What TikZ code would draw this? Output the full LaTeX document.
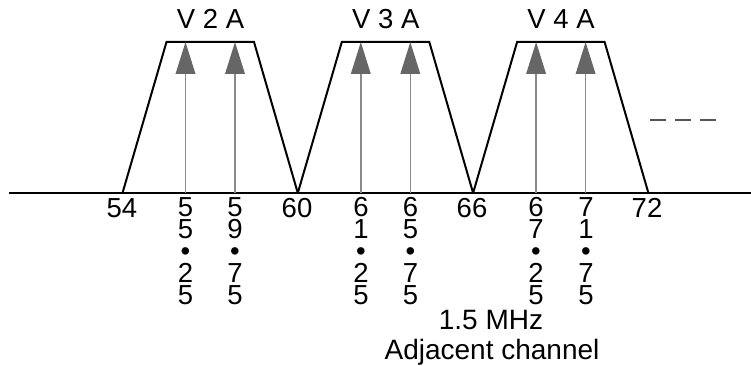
\documentclass[tikz,border=0pt]{standalone}
\usepackage{fontspec}
\setmainfont{Liberation Sans}
\usetikzlibrary{arrows.meta}
\definecolor{headgray}{HTML}{666666}
\definecolor{shaftgray}{HTML}{8A8A8A}
\definecolor{dashgray}{HTML}{555555}
\begin{document}
\begin{tikzpicture}[x=1pt,y=-1pt,
  band/.style={line width=2pt, line join=miter},
  axisline/.style={line width=1.6pt},
  carrier/.style={shaftgray, line width=1.6pt,
    -{Triangle[length=32pt,width=19.6pt,color=headgray]}},
  lbl/.style={font=\fontsize{27.5}{22}\selectfont, inner sep=0pt},
  stack/.style={lbl, align=center, anchor=north},
  note/.style={font=\fontsize{28}{30}\selectfont, inner sep=0pt, anchor=base},
  more/.style={dashgray, line width=2pt, dash pattern=on 16pt off 9pt},
]
\useasboundingbox (0,0) rectangle (751,366);

% frequency axis
\coordinate (axL) at (9,193);
\coordinate (axR) at (751,193);
\draw[axisline] (axL) -- (axR);

% channel passbands with their two carriers
\foreach \k/\ch in {0/2,1/3,2/4}{
  \pgfmathsetmacro\L{122.5+175.3*\k}
  \draw[band] (\L,193) -- (\L+44,42) -- (\L+131.5,42) -- (\L+175.3,193);
  \node[lbl, anchor=base] (hdr\ch) at (\L+88,28.5) {V \ch\ A};
  \coordinate (va\ch) at (\L+63,193);
  \coordinate (vt\ch) at (\L+63,42);
  \coordinate (aa\ch) at (\L+112.5,193);
  \coordinate (at\ch) at (\L+112.5,42);
  \draw[carrier] (va\ch) -- (vt\ch);
  \draw[carrier] (aa\ch) -- (at\ch);
}

% channel edge frequencies
\foreach \x/\f in {122/54,297/60,472/66,647/72}{
  \node[lbl, anchor=base] (edge\f) at (\x,217) {\f};
}

% carrier frequencies, written top to bottom
\foreach \x/\t/\n in {185.5/{5\\5\\•\\2\\5}/a, 235/{5\\9\\•\\7\\5}/b,
                      361/{6\\1\\•\\2\\5}/c, 410.5/{6\\5\\•\\7\\5}/d,
                      536/{6\\7\\•\\2\\5}/e, 586/{7\\1\\•\\7\\5}/f}{
  \node[stack] (freq\n) at (\x,197.3) {\t};
}

% continuation marks
\coordinate (m1) at (650,120);
\coordinate (m2) at (716,120);
\draw[more] (m1) -- (m2);

% caption
\node[note] (gap) at (491,329.3) {1.5 MHz};
\node[note] (adj) at (492,359) {Adjacent channel};
\end{tikzpicture}
\end{document}
